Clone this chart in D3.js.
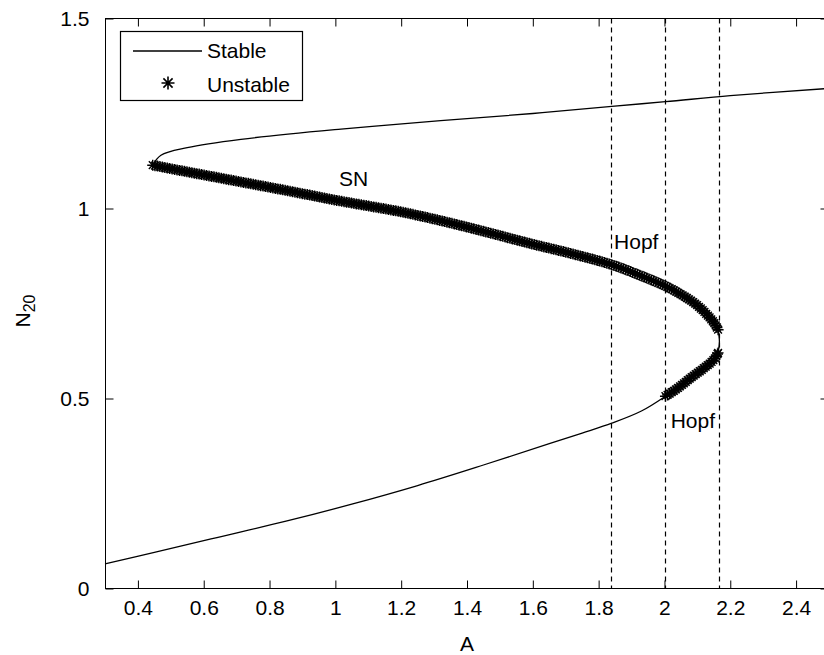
<!DOCTYPE html>
<html>
<head>
<meta charset="utf-8">
<script src="https://cdn.jsdelivr.net/npm/d3@7"></script>
<style>
  html, body { margin: 0; padding: 0; background: #fff; }
  svg { display: block; }
  text { font-family: "Liberation Sans", Arial, sans-serif; fill: #000; }
</style>
</head>
<body>
<svg id="chart" width="824" height="655"></svg>
<script>
// ── Data ──────────────────────────────────────────────────────────────────────
const lowerStable = [
  [0.30, 0.065], [0.45, 0.095], [0.64, 0.134], [0.85, 0.177], [1.05, 0.222],
  [1.25, 0.271], [1.45, 0.325], [1.65, 0.381], [1.75, 0.409], [1.84, 0.435],
  [1.93, 0.467], [2.003, 0.506]
];
const lowerUnstable = [
  [2.003, 0.506], [2.04, 0.527], [2.078, 0.553], [2.12, 0.580], [2.15, 0.602], [2.163, 0.620]
];
const foldStable = [
  [2.163, 0.620], [2.167, 0.650], [2.163, 0.681]
];
const middleUnstable = [
  [2.163, 0.681], [2.15, 0.700], [2.10, 0.745], [2.05, 0.774], [2.003, 0.796],
  [1.92, 0.826], [1.84, 0.852], [1.70, 0.885], [1.60, 0.906], [1.45, 0.940],
  [1.32, 0.968], [1.20, 0.991], [1.00, 1.022], [0.865, 1.045], [0.70, 1.072],
  [0.51, 1.103], [0.445, 1.114]
];
const upperStable = [
  [0.445, 1.114], [0.47, 1.140], [0.55, 1.160], [0.713, 1.182], [1.017, 1.209],
  [1.32, 1.231], [1.60, 1.250], [1.84, 1.269], [2.003, 1.281], [2.20, 1.297],
  [2.50, 1.316]
];
const markerLines = [1.839, 2.003, 2.166];
const annotations = [
  { text: 'SN',   a: 1.011, n: 1.058 },
  { text: 'Hopf', a: 1.847, n: 0.894 },
  { text: 'Hopf', a: 2.019, n: 0.423 }
];
const xTicks = [0.4, 0.6, 0.8, 1, 1.2, 1.4, 1.6, 1.8, 2, 2.2, 2.4];
const yTicks = [0, 0.5, 1, 1.5];
const legendItems = ['Stable', 'Unstable'];

// ── Layout ────────────────────────────────────────────────────────────────────
const X0 = 105, X1 = 829, Y0 = 588.5, Y1 = 18.5;
const TICK = 8;
const STAR_R = 5.5, STAR_STEP = 2.5;

const svg = d3.select('#chart');
const x = d3.scaleLinear().domain([0.3, 2.5]).range([X0, X1]);
const y = d3.scaleLinear().domain([0, 1.5]).range([Y0, Y1]);
const line = d3.line().x(d => x(d[0])).y(d => y(d[1])).curve(d3.curveCatmullRom);

function starPath(r) {
  const d = r * 0.7071;
  return `M${-r},0H${r}M0,${-r}V${r}M${-d},${-d}L${d},${d}M${-d},${d}L${d},${-d}`;
}

// ── Axes ──────────────────────────────────────────────────────────────────────
const axG = svg.append('g').attr('font-size', 21);

axG.append('g').attr('transform', `translate(0,${Y0})`)
  .call(d3.axisBottom(x).tickValues(xTicks).tickSizeInner(-TICK).tickSizeOuter(0)
    .tickPadding(12).tickFormat(d3.format('')))
  .call(g => g.select('.domain').remove());
axG.append('g').attr('transform', `translate(0,${Y1})`)
  .call(d3.axisTop(x).tickValues(xTicks).tickSizeInner(-TICK).tickSizeOuter(0).tickFormat(''))
  .call(g => g.select('.domain').remove());
axG.append('g').attr('transform', `translate(${X0 + 0.5},0)`)
  .call(d3.axisLeft(y).tickValues(yTicks).tickSizeInner(-TICK).tickSizeOuter(0)
    .tickPadding(16).tickFormat(d3.format('')))
  .call(g => g.select('.domain').remove());
axG.append('g').attr('transform', `translate(${X1 - 0.5},0)`)
  .call(d3.axisRight(y).tickValues(yTicks).tickSizeInner(-TICK).tickSizeOuter(0).tickFormat(''))
  .call(g => g.select('.domain').remove());
axG.selectAll('.tick text').attr('font-family', '"Liberation Sans", Arial, sans-serif').attr('font-size', 21);
axG.selectAll('.tick line').attr('stroke', '#000');

svg.append('rect')
  .attr('x', X0 + 0.5).attr('y', Y1).attr('width', X1 - X0 - 1).attr('height', Y0 - Y1)
  .attr('fill', 'none').attr('stroke', '#000');

svg.append('text').attr('x', (X0 + X1) / 2).attr('y', 651)
  .attr('text-anchor', 'middle').attr('font-size', 21).text('A');

const yl = svg.append('text').attr('transform', 'translate(30,311) rotate(-90)')
  .attr('text-anchor', 'middle').attr('font-size', 21);
yl.append('tspan').text('N');
yl.append('tspan').attr('dy', 5).attr('font-size', 16).text('20');

// ── Hopf / fold marker lines ──────────────────────────────────────────────────
svg.selectAll('line.marker').data(markerLines).join('line')
  .attr('class', 'marker')
  .attr('x1', d => Math.round(x(d)) + 0.5).attr('x2', d => Math.round(x(d)) + 0.5)
  .attr('y1', Y1).attr('y2', Y0)
  .attr('stroke', '#000').attr('stroke-width', 1.2).attr('stroke-dasharray', '5,4');

// ── Curves ────────────────────────────────────────────────────────────────────
const plotG = svg.append('g');
[lowerStable, foldStable, upperStable].forEach(branch => {
  plotG.append('path').attr('d', line(branch))
    .attr('fill', 'none').attr('stroke', '#000').attr('stroke-width', 1.3);
});

// unstable branches: star markers spaced along the drawn branch
[lowerUnstable, middleUnstable].forEach(branch => {
  const p = plotG.append('path').attr('d', line(branch)).attr('fill', 'none').attr('stroke', 'none');
  const node = p.node();
  const len = node.getTotalLength();
  const pts = [];
  for (let l = 0; l <= len; l += STAR_STEP) pts.push(node.getPointAtLength(l));
  pts.push(node.getPointAtLength(len));
  plotG.append('g').selectAll('path').data(pts).join('path')
    .attr('transform', d => `translate(${d.x},${d.y})`)
    .attr('d', starPath(STAR_R))
    .attr('fill', 'none').attr('stroke', '#000').attr('stroke-width', 1.4);
});

// ── Annotations ───────────────────────────────────────────────────────────────
svg.selectAll('text.note').data(annotations).join('text')
  .attr('class', 'note')
  .attr('x', d => x(d.a)).attr('y', d => y(d.n))
  .attr('font-size', 21).text(d => d.text);

// ── Legend ────────────────────────────────────────────────────────────────────
const lg = svg.append('g');
lg.append('rect').attr('x', 120.5).attr('y', 31.5).attr('width', 182).attr('height', 69)
  .attr('fill', '#fff').attr('stroke', '#000').attr('stroke-width', 1.2);
lg.append('line').attr('x1', 133).attr('x2', 202).attr('y1', 51).attr('y2', 51)
  .attr('stroke', '#000').attr('stroke-width', 1.3);
lg.append('path').attr('transform', 'translate(168,83)').attr('d', starPath(STAR_R + 1))
  .attr('fill', 'none').attr('stroke', '#000').attr('stroke-width', 1.6);
lg.selectAll('text').data(legendItems).join('text')
  .attr('x', 207).attr('y', (d, i) => 58 + i * 34)
  .attr('font-size', 21).text(d => d);
</script>
</body>
</html>
